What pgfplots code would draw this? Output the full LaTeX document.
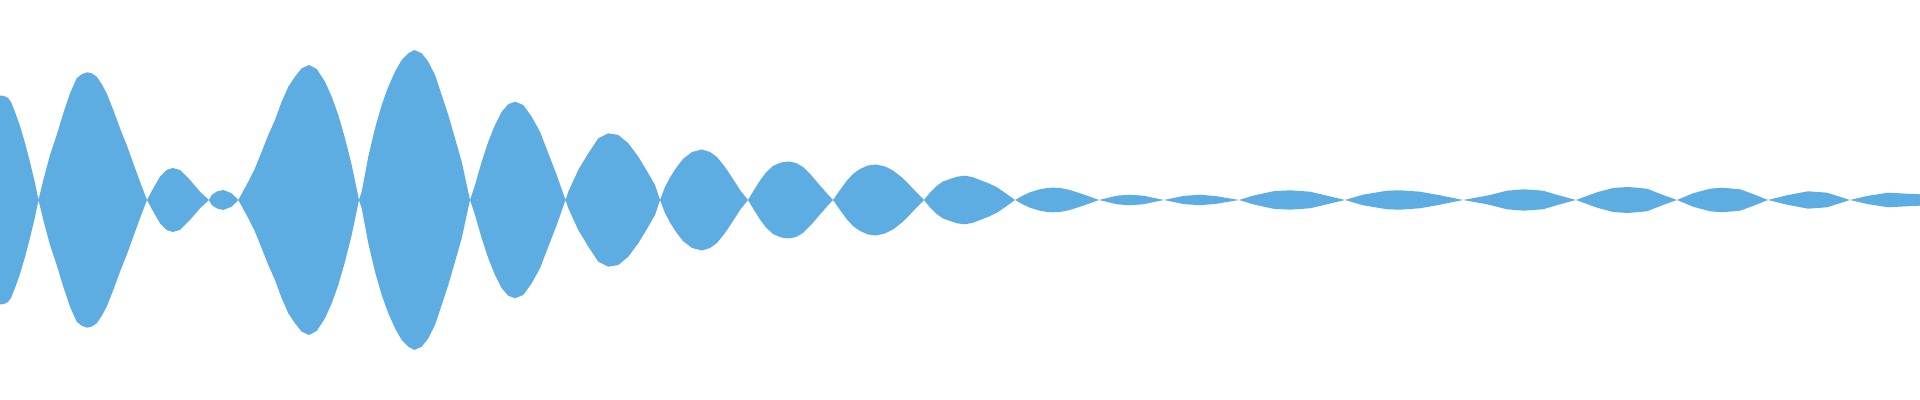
\documentclass[border=0pt]{standalone}
\usepackage{pgfplots}
\pgfplotsset{compat=1.18}
\usepackage{pgfplotstable}
\usepgfplotslibrary{fillbetween}
\definecolor{wave}{HTML}{5DADE2}

% envelope of the waveform (x and amplitude in pixels)
\pgfplotstableread{
x a
0 104.5
4 104
8 102
11 98
15 88
20 74
25 57
30 38
35 17
38.5 0
43.3 20
50 45
56.7 65
63.3 86.7
70 106.7
76.7 121.7
82 126
87.3 127.7
92 126.5
96.7 123.3
101.7 116
106.7 106.7
113.3 90
120 71.7
126.7 55
133.3 36.7
140 18.3
147 0
153.3 11.7
160 23.3
166.7 30
172.7 32
180 30
190 20
200 8.3
209 0
211.7 5
217 8.5
223.3 10
231.7 6.7
238.3 0
248.3 18.3
255 31.7
261.7 48.3
268.3 65
275 80
281.7 98.3
288.3 113.3
295 123.3
301.7 131.7
309 135
316.7 131
325 118.3
331.7 103.3
338.3 85
345 61.7
351.7 35
359 0
361.7 8.3
368.3 43.3
375 71.7
381.7 95
388.3 113.3
395 128.3
401.7 140
408.3 146.7
414.3 150
421.7 146.7
428.3 138.3
435 125
441.7 105
448.3 85
455 61.7
461.7 38.3
470 0
475 15
481.7 38.3
488.3 58.3
495 75
501.7 88.3
508.3 95.7
515 98.3
523.3 95
531.7 83.3
540 68.3
548.3 46.7
556.7 25
565.5 0
568.3 8.3
578.3 30
588.3 46.7
598.3 61.7
608.3 66.7
618.3 65
628.3 56.7
638.3 43.3
648.3 26.7
655 15
660 0
665 13
670 22.5
676 32
683 41
692 48
702 50.5
710 48
717 43
725 33
733 21
740 10
748 0
754 10
760 19.5
766 27.5
773 34
781 37.5
789 38.5
796 37
803 33
811 25
820 14.5
827 6.5
833 0
840 10
847 19.5
853 26
860 31
868 34.5
876 35.5
885 33.5
893 29.5
902 22.5
910 14.5
917 7
924 0
930 7.5
937 14.3
943 18.5
950 21
957 23.3
965 24.3
973 22.8
980 20
989 16.5
997 12.7
1006 6.5
1015 0
1022 4
1030 7.7
1039 10.5
1047 12
1053 12.3
1060 12
1069 10.2
1077 7.7
1088 4
1099 0
1117 4.3
1130 5.3
1143 4.3
1164 0
1183 4
1200 5.3
1217 3.7
1239 0
1253 4.3
1273 8.7
1290 9.7
1310 8.3
1327 4.3
1345 0
1363 5.3
1387 9.3
1400 9.7
1420 8.3
1440 4.7
1463 0
1487 4.3
1507 9.3
1524 10.7
1543 9.3
1560 4.3
1576 0
1597 7.7
1613 12
1628 13
1647 11.3
1663 5
1677 0
1693 6.7
1710 11.3
1722 12.3
1740 10.7
1753 6
1768 0
1787 4.7
1808 8.7
1827 7.3
1850 0
1867 4
1888 7.3
1907 6.3
1920 5.7
}\envelope

\begin{document}
\begin{tikzpicture}
\begin{axis}[
    hide axis, scale only axis,
    width=19.2cm, height=4cm,
    xmin=0, xmax=1920, ymin=-200, ymax=200
]
\path (rel axis cs:0,0) rectangle (rel axis cs:1,1);
\addplot[draw=none, name path=top] table[x=x, y=a] {\envelope};
\addplot[draw=none, name path=bot] table[x=x, y expr=-\thisrow{a}] {\envelope};
\addplot[fill=wave, draw=none] fill between[of=top and bot];
\end{axis}
\end{tikzpicture}
\end{document}
